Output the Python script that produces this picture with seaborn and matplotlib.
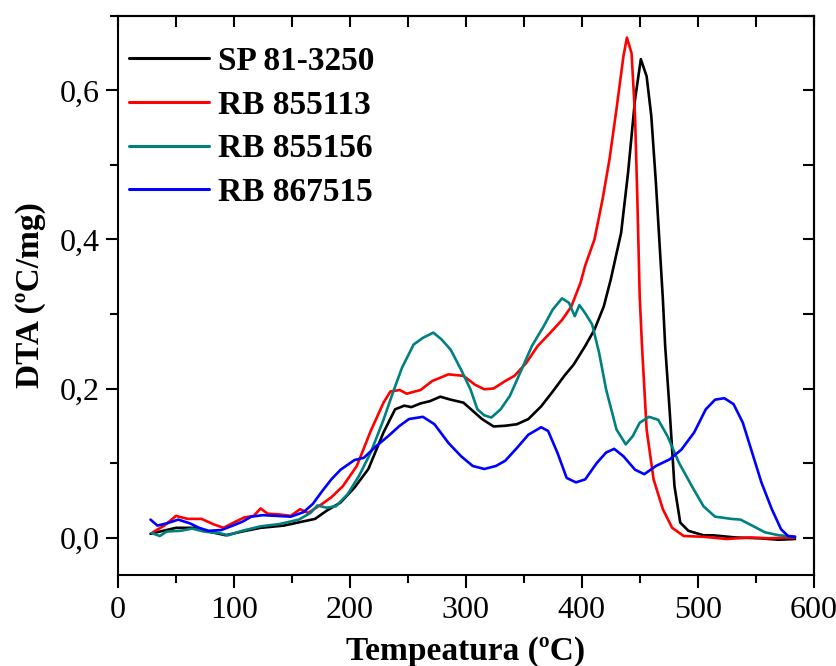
import matplotlib
matplotlib.use("Agg")
import matplotlib.pyplot as plt
from matplotlib.ticker import MultipleLocator, FuncFormatter
import seaborn as sns
import pandas as pd

# ---- data ----
sp_x = [28, 50, 66, 78, 93, 107, 123, 143, 155, 170, 180, 192, 204, 216, 229, 239, 247, 253, 261, 269,
        278, 287, 298, 306, 314, 324, 334, 344, 354, 365, 375, 385, 393, 403, 411, 419, 425, 434, 440,
        446, 451, 456, 460, 464, 470, 472, 476, 480, 485, 492, 505, 513, 533, 553, 570, 584]
sp_y = [0.005, 0.013, 0.013, 0.008, 0.003, 0.008, 0.013, 0.016, 0.020, 0.025, 0.036, 0.047, 0.067, 0.092,
        0.141, 0.172, 0.177, 0.175, 0.180, 0.183, 0.189, 0.185, 0.181, 0.170, 0.159, 0.149, 0.150, 0.152,
        0.159, 0.176, 0.196, 0.217, 0.232, 0.257, 0.279, 0.310, 0.346, 0.409, 0.490, 0.588, 0.642, 0.619,
        0.566, 0.476, 0.320, 0.257, 0.167, 0.069, 0.020, 0.009, 0.003, 0.003, 0.000, -0.001, -0.003, -0.002]

r13_x = [30, 40, 50, 60, 72, 82, 91, 101, 109, 117, 123, 129, 139, 149, 157, 164, 176, 184, 194, 206,
         218, 229, 235, 243, 249, 261, 271, 285, 298, 308, 316, 324, 334, 342, 352, 362, 373, 383, 391,
         399, 403, 411, 418, 424, 430, 436, 439, 443, 446, 448, 450, 452, 456, 462, 470, 478, 488, 505,
         525, 545, 561, 584]
r13_y = [0.007, 0.016, 0.029, 0.025, 0.025, 0.018, 0.013, 0.021, 0.027, 0.029, 0.039, 0.032, 0.031,
         0.029, 0.038, 0.033, 0.045, 0.054, 0.069, 0.096, 0.143, 0.181, 0.196, 0.198, 0.193, 0.198, 0.210,
         0.219, 0.217, 0.205, 0.199, 0.200, 0.210, 0.217, 0.234, 0.257, 0.275, 0.292, 0.310, 0.342, 0.365,
         0.400, 0.454, 0.508, 0.575, 0.646, 0.671, 0.650, 0.566, 0.454, 0.325, 0.257, 0.145, 0.078, 0.038,
         0.013, 0.002, 0.001, -0.002, 0.000, -0.001, 0.000]

r56_x = [29, 36, 42, 54, 64, 74, 87, 95, 107, 123, 139, 156, 166, 172, 180, 188, 198, 208, 218, 229, 237,
         245, 255, 263, 272, 279, 287, 296, 304, 310, 316, 322, 330, 338, 348, 357, 367, 375, 383, 389,
         394, 398, 403, 409, 415, 421, 430, 438, 444, 450, 458, 466, 474, 484, 495, 505, 515, 529, 537,
         547, 558, 570, 584]
r56_y = [0.006, 0.002, 0.008, 0.009, 0.012, 0.008, 0.006, 0.003, 0.009, 0.015, 0.018, 0.024, 0.033, 0.043,
         0.040, 0.042, 0.058, 0.083, 0.114, 0.158, 0.194, 0.228, 0.259, 0.268, 0.275, 0.266, 0.252, 0.225,
         0.199, 0.172, 0.164, 0.161, 0.172, 0.190, 0.225, 0.257, 0.283, 0.306, 0.321, 0.315, 0.297, 0.312,
         0.301, 0.286, 0.248, 0.199, 0.145, 0.125, 0.136, 0.154, 0.162, 0.158, 0.136, 0.100, 0.069, 0.042,
         0.028, 0.025, 0.024, 0.016, 0.007, 0.003, 0.001]

r15_x = [28, 34, 42, 52, 62, 70, 78, 89, 99, 107, 115, 125, 137, 149, 160, 168, 176, 184, 192, 204, 212,
         223, 233, 243, 251, 263, 273, 285, 296, 306, 316, 326, 334, 344, 354, 365, 371, 379, 387, 395,
         403, 413, 421, 428, 436, 446, 454, 464, 476, 486, 497, 507, 515, 523, 531, 539, 547, 555, 564,
         572, 578, 584]
r15_y = [0.024, 0.016, 0.019, 0.024, 0.019, 0.013, 0.009, 0.010, 0.016, 0.021, 0.028, 0.030, 0.029, 0.028,
         0.034, 0.045, 0.062, 0.078, 0.091, 0.104, 0.107, 0.123, 0.136, 0.150, 0.159, 0.162, 0.152, 0.127,
         0.109, 0.096, 0.092, 0.096, 0.103, 0.120, 0.138, 0.148, 0.143, 0.114, 0.080, 0.074, 0.078, 0.100,
         0.114, 0.119, 0.109, 0.091, 0.085, 0.096, 0.105, 0.118, 0.141, 0.172, 0.185, 0.187, 0.179, 0.154,
         0.114, 0.074, 0.038, 0.011, 0.002, 0.001]

labels = ["SP 81-3250", "RB 855113", "RB 855156", "RB 867515"]
colors = ["#000000", "#FF0000", "#008080", "#0000FF"]
xticks = [0, 100, 200, 300, 400, 500, 600]
yticks = [0.0, 0.2, 0.4, 0.6]

frames = []
for lab, xs, ys in zip(labels, [sp_x, r13_x, r56_x, r15_x], [sp_y, r13_y, r56_y, r15_y]):
    frames.append(pd.DataFrame({"T": xs, "DTA": ys, "Amostra": lab}))
df = pd.concat(frames, ignore_index=True)

sns.set_theme(style="ticks")
plt.rcParams["font.family"] = ["Liberation Serif", "DejaVu Serif"]
plt.rcParams.update({"text.color": "black", "axes.labelcolor": "black",
                     "xtick.color": "black", "ytick.color": "black",
                     "axes.edgecolor": "black"})

fig = plt.figure(figsize=(8.37, 6.66), dpi=100)
ax = fig.add_axes([0.141, 0.137, 0.831, 0.839])

sns.lineplot(data=df, x="T", y="DTA", hue="Amostra", hue_order=labels,
             palette=dict(zip(labels, colors)), linewidth=1.9, sort=False,
             estimator=None, ax=ax)

ax.set_xlim(0, 600)
ax.set_ylim(-0.05, 0.70)
ax.set_xticks(xticks)
ax.set_yticks(yticks)
ax.xaxis.set_minor_locator(MultipleLocator(50))
ax.yaxis.set_minor_locator(MultipleLocator(0.1))
ax.yaxis.set_major_formatter(FuncFormatter(lambda v, p: f"{v:.1f}".replace(".", ",")))
ax.tick_params(which="both", direction="out", width=1.5, labelsize=23, colors="black",
               bottom=True, left=True, top=False, right=False)
ax.tick_params(which="major", length=9)
ax.tick_params(which="minor", length=6)
ax.tick_params(axis="x", pad=6)
ax.tick_params(axis="y", pad=4)

for s in ax.spines.values():
    s.set_linewidth(1.5)
    s.set_color("black")
    s.set_visible(True)

top = ax.secondary_xaxis("top")
top.set_xticks(xticks)
top.xaxis.set_minor_locator(MultipleLocator(50))
top.tick_params(which="both", direction="in", length=8, width=1.5, labeltop=False, top=True)
top.spines["top"].set_linewidth(1.5)
right = ax.secondary_yaxis("right")
right.set_yticks(yticks)
right.yaxis.set_minor_locator(MultipleLocator(0.1))
right.tick_params(which="both", direction="in", length=8, width=1.5, labelright=False, right=True)
right.spines["right"].set_linewidth(1.5)

ax.set_xlabel("Tempeatura (ºC)", fontsize=24, fontweight="bold", labelpad=8)
ax.set_ylabel("DTA (ºC/mg)", fontsize=24, fontweight="bold", labelpad=10)

leg = ax.legend(loc="upper left", frameon=False, fontsize=24, handlelength=2.4,
                handletextpad=0.25, labelspacing=0.38, borderaxespad=0.0,
                bbox_to_anchor=(-0.003, 0.97))
for t in leg.get_texts():
    t.set_fontweight("bold")
for h in leg.get_lines():
    h.set_linewidth(2.2)

fig.savefig("out.png", dpi=100)
